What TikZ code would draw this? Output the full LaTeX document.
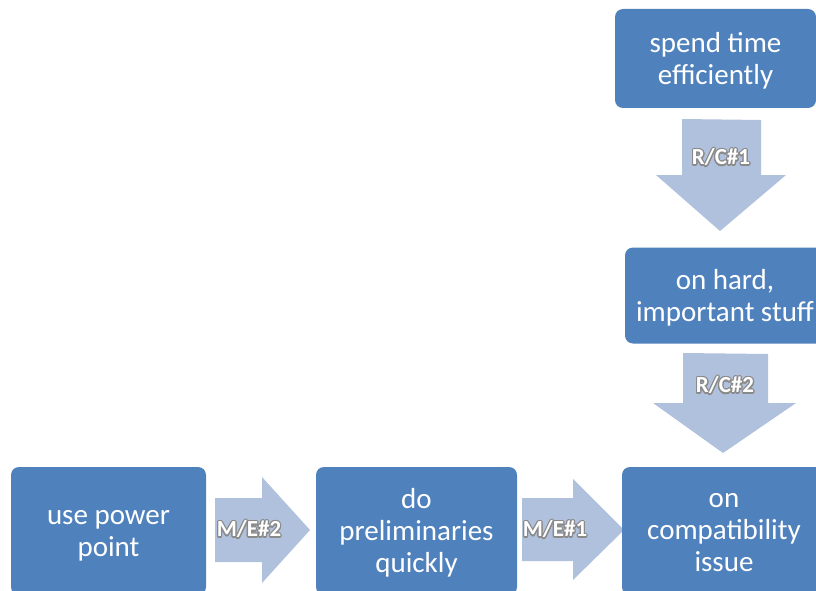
\documentclass[tikz,border=0pt]{standalone}
\usepackage{fontspec}
\setmainfont{Carlito}
\usepackage{contour}
\contourlength{1.2pt}
\contournumber{16}
\definecolor{boxblue}{HTML}{4F81BD}
\definecolor{flowblue}{HTML}{B0C1DD}
\definecolor{glowgray}{HTML}{8A8A8A}
\tikzset{
  stepbox/.style={fill=boxblue, rounded corners=8pt, inner sep=0pt},
  steptext/.style={text=white, align=center, font=\fontsize{29}{32}\selectfont, inner sep=0pt},
  flow/.style={fill=flowblue},
  flowlabel/.style={text=white, font=\bfseries\fontsize{23}{25}\selectfont, inner sep=0pt},
}
% white lettering with a grey halo
\newcommand\glowtext[1]{\contour{glowgray}{#1}}

\begin{document}
\begin{tikzpicture}[x=1pt,y=-1pt]
\clip (0,0) rectangle (816,591);
\fill[white] (0,0) rectangle (816,591);

% block arrows between the steps
\path[flow] (215,498) -- (262,498) -- (262,477) -- (310,530) -- (262,583) -- (262,562) -- (215,562) -- cycle;
\path[flow] (522,498) -- (573,498) -- (573,479) -- (624,530) -- (573,580) -- (573,561) -- (522,561) -- cycle;
\path[flow] (682,119) -- (761,120) -- (761,175) -- (786,175) -- (720,231) -- (656,175) -- (682,175) -- cycle;
\path[flow] (683,353) -- (768,354) -- (768,403) -- (796,403) -- (723,453) -- (653,403) -- (683,403) -- cycle;

% steps
\node[stepbox, minimum width=201pt, minimum height=99pt,
  label={[steptext, yshift=-2.5pt]center:{spend time\\efficiently}}] (spend) at (715.5,58.5) {};
\node[stepbox, minimum width=200pt, minimum height=96pt,
  label={[steptext, yshift=-2pt]center:{on hard,\\important stuff}}] (hard) at (725,295.5) {};
\node[stepbox, minimum width=204pt, minimum height=128pt,
  label={[steptext, yshift=-1.5pt]center:{on\\compatibility\\issue}}] (compat) at (724,531) {};
\node[stepbox, minimum width=201pt, minimum height=128pt,
  label={[steptext, yshift=-1.5pt]center:{do\\preliminaries\\quickly}}] (prelim) at (416.5,531) {};
\node[stepbox, minimum width=195pt, minimum height=128pt,
  label={[steptext, yshift=-4.5pt]center:{use power\\point}}] (ppt) at (108.5,531) {};

% arrow labels
\node[flowlabel] (me2) at (249,530) {\glowtext{M/E\#2}};
\node[flowlabel] (me1) at (555,530) {\glowtext{M/E\#1}};
\node[flowlabel] (rc1) at (721,158) {\glowtext{R/C\#1}};
\node[flowlabel] (rc2) at (725,386) {\glowtext{R/C\#2}};
\end{tikzpicture}
\end{document}
